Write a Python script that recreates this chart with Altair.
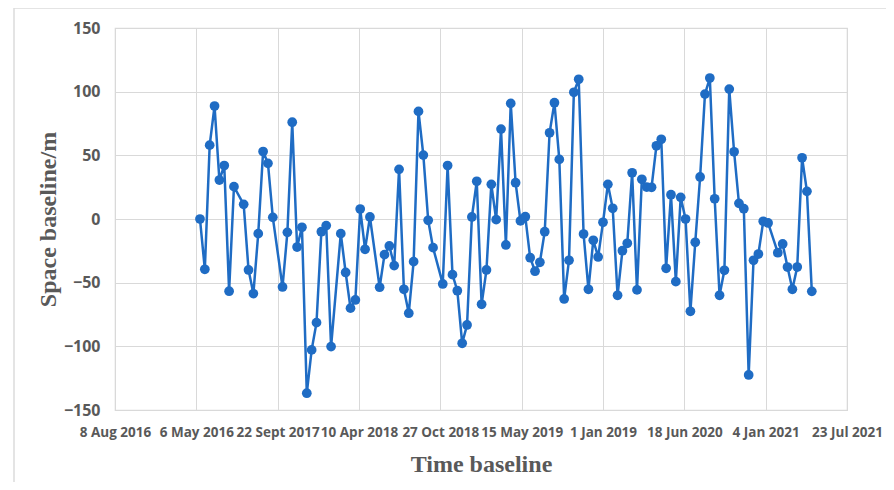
import altair as alt
import pandas as pd

# Acquisition time, in days after 8 Aug 2016 (12-day revisit, some gaps)
days = [210, 222, 234, 246, 258, 270, 282, 294,
        318, 330, 342, 354, 366, 378, 390,
        414, 426, 438, 450, 462, 474, 486, 498, 510, 522, 534,
        558, 570, 582, 594, 606, 618, 630,
        654, 666, 678, 690, 702, 714, 726, 738, 750, 762, 774, 786,
        810, 822, 834, 846, 858, 870, 882, 894, 906, 918, 930, 942, 954, 966, 978, 990,
        1002, 1014, 1026, 1038, 1050, 1062, 1074, 1086, 1098, 1110, 1122, 1134, 1146, 1158,
        1170, 1182, 1194, 1206, 1218, 1230, 1242, 1254, 1266, 1278, 1290, 1302, 1314, 1326,
        1338, 1350, 1362, 1374, 1386, 1398, 1410, 1422, 1434, 1446, 1458, 1470, 1482, 1494,
        1506, 1518, 1530, 1542, 1554, 1566, 1578, 1590, 1602, 1614,
        1638, 1650, 1662, 1674, 1686, 1698, 1710, 1722]

# Perpendicular (space) baseline, metres
baseline = [0, -39.5, 58, 88.7, 30.6, 42, -56.7, 25.4,
            11.5, -40, -58.6, -11.5, 53, 43.7, 1.3,
            -53.4, -10.5, 76, -22, -6.5, -136.8, -102.8, -81.4, -10, -5.2, -100.2,
            -11.5, -42, -70, -63.6, 7.8, -23.8, 1.6,
            -53.6, -28, -21.2, -36.6, 39, -55.2, -74, -33.5, 84.5, 50.2, -1, -22.5,
            -51, 42, -43.7, -56.3, -97.6, -83.2, 1.6, 29.6, -67, -40, 27.2, -0.5, 70.6, -20.4,
            90.8, 28.5, -1.5, 1.8, -30.4, -41, -34, -10, 67.7, 91.3, 46.8, -62.8, -32.4,
            99.5, 109.7, -11.8, -55.2, -16.7, -29.8, -2.6, 27.2, 8.4, -59.9, -24.9, -19.1,
            36.3, -55.7, 31.2, 25.1, 24.9, 57.5, 62.6, -38.7, 19.1, -49.2, 17, 0, -72.5,
            -18.3, 33, 98.1, 110.7, 15.9, -59.9, -40.3, 102, 52.8, 12.3, 8.1, -122.5,
            -32.4, -27.5, -1.8, -3.1,
            -26.5, -19.6, -37.7, -55.2, -37.7, 48.1, 21.7, -56.8]

tick_labels = ["8 Aug 2016", "6 May 2016", "22 Sept 2017", "10 Apr 2018", "27 Oct 2018",
               "15 May 2019", "1 Jan 2019", "18 Jun 2020", "4 Jan 2021", "23 Jul 2021"]
tick_step = 201
y_ticks = [-150, -100, -50, 0, 50, 100, 150]

df = pd.DataFrame({"day": days, "baseline": baseline})
tick_values = [i * tick_step for i in range(len(tick_labels))]
label_arr = "[" + ",".join("'" + t + "'" for t in tick_labels) + "]"

blue = "#1f6cc4"
gray = "#595959"
x_scale = alt.Scale(domain=[0, tick_values[-1]], nice=False, zero=False)
y_scale = alt.Scale(domain=[-150, 150], nice=False)

x_enc = alt.X("day:Q", scale=x_scale, axis=alt.Axis(
    values=tick_values, labelExpr=label_arr + "[round(datum.value / %d)]" % tick_step,
    title="Time baseline", titleFont="Liberation Serif", titleFontSize=24,
    titleFontWeight="bold", titleColor=gray, titleY=61, titleBaseline="alphabetic",
    labelFont="Open Sans", labelFontSize=13.5, labelFontWeight="bold", labelColor=gray,
    labelOverlap=False, labelPadding=15, ticks=False, tickSize=0, domain=False,
    gridColor="#d9d9d9", labelFlush=False))
y_enc = alt.Y("baseline:Q", scale=y_scale, axis=alt.Axis(
    values=y_ticks, title="Space baseline/m", titleFont="Liberation Serif",
    titleFontSize=24, titleFontWeight="bold", titleColor=gray, titleX=-67,
    titleBaseline="middle", titleAngle=-90,
    labelFont="Open Sans", labelFontSize=16, labelFontWeight="bold", labelColor=gray,
    labelPadding=15, ticks=False, tickSize=0, domain=False, gridColor="#d9d9d9"))

frame = alt.Chart(pd.DataFrame({"a": [0]})).mark_rect(
    fill=None, stroke="#dcdcdc", strokeWidth=1.5).encode(
    x=alt.value(-101), x2=alt.value(900), y=alt.value(-20), y2=alt.value(600))

line = alt.Chart(df).mark_line(color=blue, strokeWidth=2.5).encode(x=x_enc, y=y_enc)
pts = alt.Chart(df).mark_circle(color=blue, size=95, opacity=1).encode(x="day:Q", y="baseline:Q")

chart = alt.layer(frame, line, pts).properties(
    width=732, height=382,
    padding={"left": 107, "top": 20, "right": 39, "bottom": 72},
    autosize=alt.AutoSizeParams(type="none"),
    background="white",
).configure_view(stroke="#d9d9d9", strokeWidth=1.2)

chart.save("out.html", embed_options={"renderer": "svg", "actions": False})
